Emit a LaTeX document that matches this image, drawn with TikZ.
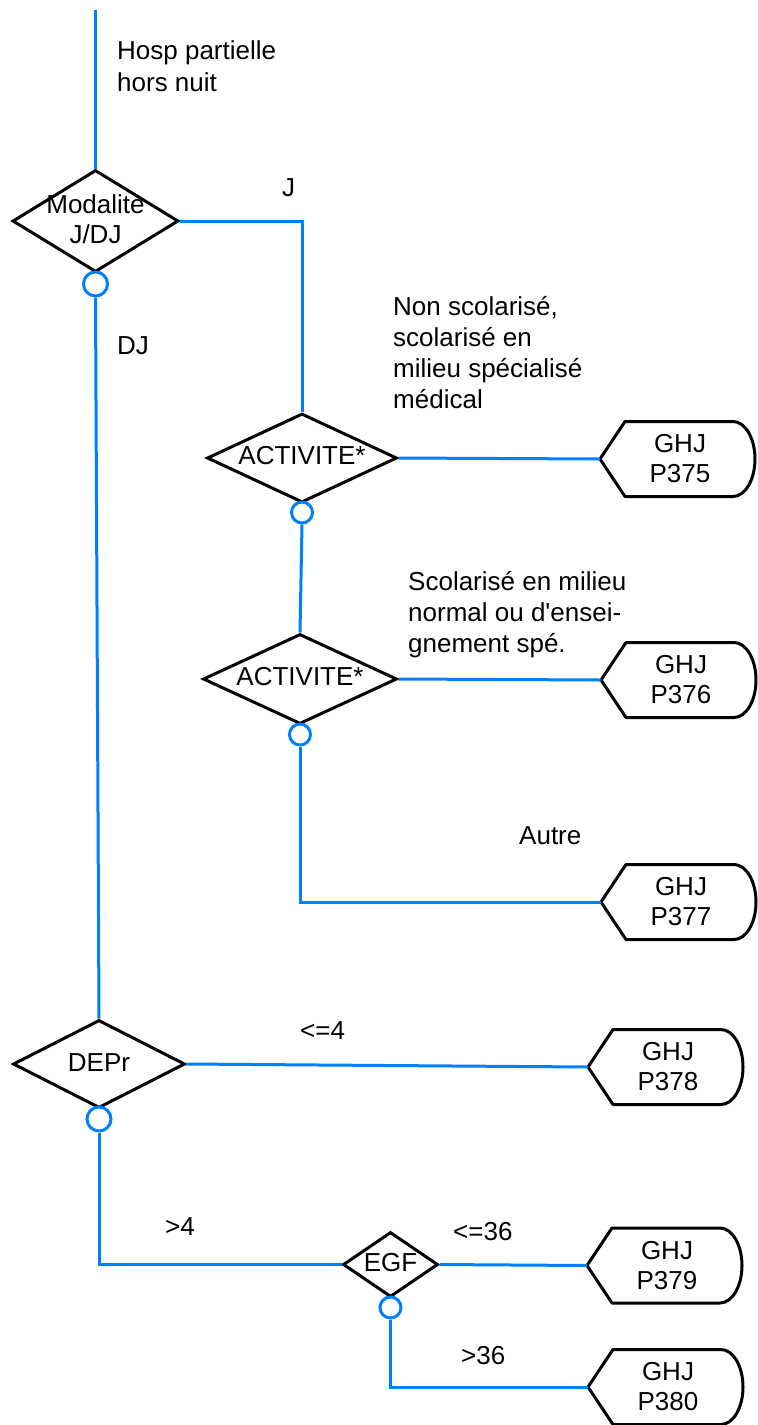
\documentclass[tikz,border=0pt]{standalone}
\usepackage{fontspec}
\setmainfont{Liberation Sans}
\newfontfamily\arial{Liberation Sans}
\usetikzlibrary{shapes.geometric}
\definecolor{flow}{RGB}{0,128,255}
\newcommand\ghjbox[4]{%
  \coordinate (#1) at (#2,#3);
  \draw[term] (#1) -- ++(25,-37.5) -- ++(108,0)
    arc[start angle=-90,end angle=90,x radius=22,y radius=37.5]
    -- ++(-108,0) -- cycle;
  \node[boxtxt] (#1t) at ([xshift=80pt]#1) {#4};
}
\begin{document}
\begin{tikzpicture}[x=1pt,y=-1pt,
  every node/.style={font=\arial\fontsize{26}{31}\selectfont, inner sep=0pt},
  dia/.style={draw=black, line width=3pt, shape=diamond},
  circ/.style={draw=flow, line width=3pt, shape=circle, fill=white},
  term/.style={draw=black, line width=3pt, line join=round},
  boxtxt/.style={align=center, font=\arial\fontsize{26}{30}\selectfont},
  flowline/.style={draw=flow, line width=3pt},
  lbl/.style={anchor=base west, align=left}]
\useasboundingbox (0,0) rectangle (758,1425);

% decisions
\node[dia, minimum width=166pt, minimum height=102pt] (mod) at (95.5,221) {};
\node[align=center, font=\arial\fontsize{26}{30}\selectfont] (modt) at (95.5,219) {Modalite\\J/DJ};
\node[dia, minimum width=190pt, minimum height=89pt] (act1) at (302,458) {};
\node (act1t) at (302,456) {ACTIVITE*};
\node[dia, minimum width=194pt, minimum height=90pt] (act2) at (300,679) {};
\node (act2t) at (300,677) {ACTIVITE*};
\node[dia, minimum width=172pt, minimum height=88pt] (dep) at (99,1064) {};
\node (dept) at (99,1063) {DEPr};
\node[dia, minimum width=95pt, minimum height=65pt] (egf) at (390.5,1264.5) {};
\node (egft) at (390.5,1263) {EGF};

% terminals
\ghjbox{p375}{600}{459}{GHJ\\P375}
\ghjbox{p376}{601}{680}{GHJ\\P376}
\ghjbox{p377}{601}{902}{GHJ\\P377}
\ghjbox{p378}{588}{1067}{GHJ\\P378}
\ghjbox{p379}{587}{1265.5}{GHJ\\P379}
\ghjbox{p380}{588}{1387}{GHJ\\P380}

% connectors
\coordinate (top) at (95.5,10);
\draw[flowline] (top) -- (mod.north);
\draw[flowline] (mod.east) -| (act1.north);
\draw[flowline] (act1.east) -- (p375);
\draw[flowline] (act2.east) -- (p376);
\draw[flowline] (dep.east) -- (p378);
\draw[flowline] (egf.east) -- (p379);

% circles
\node[circ, minimum size=24pt] (modc) at (95.5,284) {};
\node[circ, minimum size=21pt] (act1c) at (302,512.5) {};
\node[circ, minimum size=21pt] (act2c) at (300,734.5) {};
\node[circ, minimum size=24pt] (depc) at (99,1119) {};
\node[circ, minimum size=21pt] (egfc) at (390.5,1307.5) {};

\draw[flowline] (modc.south) -- (dep.north);
\draw[flowline] (act1c.south) -- (act2.north);
\draw[flowline] (act2c.south) |- (p377);
\draw[flowline] (depc.south) |- (egf.west);
\draw[flowline] (egfc.south) |- (p380);

% labels (base = baseline of last line)
\node[lbl, font=\arial\fontsize{26}{32}\selectfont] (l1) at (117,91) {Hosp partielle\\hors nuit};
\node[lbl] (l2) at (282,196) {J};
\node[lbl] (l3) at (117,354) {DJ};
\node[lbl] (l4) at (393,408) {Non scolarisé,\\scolarisé en\\milieu spécialisé\\médical};
\node[lbl] (l5) at (408,652) {Scolarisé en milieu\\normal ou d'ensei-\\gnement spé.};
\node[lbl] (l6) at (519,844) {Autre};
\node[lbl] (l7) at (300,1039) {<=4};
\node[lbl] (l8) at (165,1235) {>4};
\node[lbl] (l9) at (453,1240) {<=36};
\node[lbl] (l10) at (461,1364) {>36};
\end{tikzpicture}
\end{document}
